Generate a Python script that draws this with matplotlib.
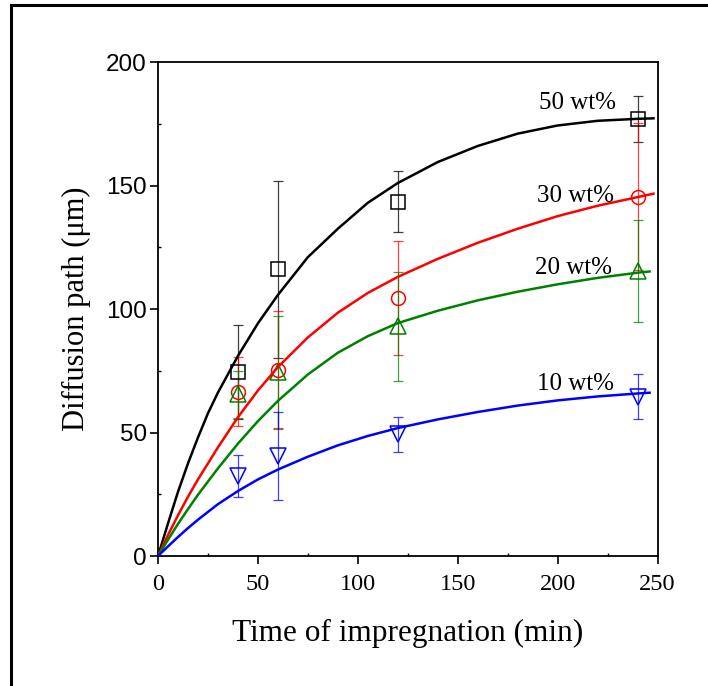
import matplotlib
matplotlib.use("Agg")
import matplotlib.pyplot as plt
from matplotlib.lines import Line2D
from matplotlib.ticker import MultipleLocator

# measured diffusion path at each impregnation time
t_meas = [40, 60, 120, 240]
d50 = [74.6, 116.0, 143.4, 176.8]
e50 = [19.0, 36.0, 12.4, 9.3]
d30 = [66.5, 75.3, 104.5, 145.5]
e30 = [14.0, 24.0, 23.0, 29.7]
d20 = [65.5, 74.5, 93.0, 115.5]
e20 = [9.5, 22.5, 22.0, 20.6]
d10 = [32.5, 40.5, 49.2, 64.5]
e10 = [8.5, 17.7, 7.0, 9.0]

# fitted curves
t_fit_a = [0, 5, 10, 15, 20, 25, 30, 40, 50, 60, 75, 90, 105, 120, 140, 160, 180, 200, 220, 240, 248]
f50 = [0, 13.2, 26, 37.5, 48, 57.8, 66.2, 81, 94.2, 105.7, 121, 132.5, 143, 151, 159.5, 166, 171,
       174.3, 176.2, 177, 177.2]
t_fit_b = [0, 5, 10, 15, 20, 30, 40, 50, 60, 75, 90, 105, 120, 140, 160, 180, 200, 220, 240, 248]
f30 = [0, 8.5, 16.5, 24, 31, 44, 56.2, 67, 76.5, 88.5, 98.5, 106.5, 113, 120.3, 126.8, 132.5,
       137.6, 141.8, 145.3, 146.7]
t_fit_c = [0, 5, 10, 15, 20, 30, 40, 50, 60, 75, 90, 105, 120, 140, 160, 180, 200, 220, 240, 246]
f20 = [0, 6.6, 13, 19, 24.8, 35.5, 45.5, 54.6, 62.8, 73.5, 82.3, 89, 94.3, 99.3, 103.5, 107,
       110, 112.6, 114.7, 115.2]
f10 = [0, 3.9, 7.7, 11.3, 14.7, 21, 26.3, 31, 35, 40.2, 44.8, 48.6, 51.8, 55.3, 58.3, 60.9,
       63, 64.6, 65.8, 66.1]

labels = ["50 wt%", "30 wt%", "20 wt%", "10 wt%"]
label_pos = [(210, 183.4), (209, 145.7), (208, 116.6), (209, 69.6)]

serif = "Liberation Serif"
sans = "Liberation Sans"

fig = plt.figure(figsize=(7.08, 6.86), dpi=100)
ax = fig.add_axes([0.2232, 0.1895, 0.7055, 0.7201])

series = [
    (d50, e50, t_fit_a, f50, "black", "s", 9.5),
    (d30, e30, t_fit_b, f30, "#ff0000", "o", 10),
    (d20, e20, t_fit_c, f20, "#008000", "^", 11),
    (d10, e10, t_fit_c, f10, "#0000ff", "v", 11),
]

for d, e, tf, f, c, m, ms in series:
    ax.errorbar(t_meas, d, yerr=e, fmt="none", ecolor=c, elinewidth=0.9,
                capsize=3.5, capthick=0.9, alpha=0.75, zorder=2)
    ax.plot(t_meas, d, linestyle="none", marker=m, markersize=ms,
            markerfacecolor="none", markeredgecolor=c, markeredgewidth=1.1, zorder=3)
    ax.plot(tf, f, color=c, lw=1.8, zorder=4)

for lab, (x, y) in zip(labels, label_pos):
    ax.text(x, y, lab, fontsize=18, family=serif, ha="center", va="center")

ax.set_xlim(0, 250)
ax.set_ylim(0, 200)
ax.xaxis.set_major_locator(MultipleLocator(50))
ax.yaxis.set_major_locator(MultipleLocator(50))
ax.xaxis.set_minor_locator(MultipleLocator(25))
ax.yaxis.set_minor_locator(MultipleLocator(25))
ax.tick_params(which="major", direction="out", length=6, width=1.2,
               top=False, right=False)
ax.tick_params(which="minor", direction="in", length=2.5, width=1.0,
               top=False, right=False)

for lbl in ax.get_xticklabels():
    lbl.set_fontfamily(serif)
    lbl.set_fontsize(17.5)
for lbl in ax.get_yticklabels():
    lbl.set_fontfamily(sans)
    lbl.set_fontsize(17.5)
ax.tick_params(axis="x", pad=7)
ax.tick_params(axis="y", pad=2)

for sp in ax.spines.values():
    sp.set_linewidth(1.3)

ax.set_xlabel("Time of impregnation (min)", fontsize=22.5, family=serif, labelpad=17)
ax.set_ylabel("Diffusion path (\u03bcm)", fontsize=22, family=serif, labelpad=11)

# frame lines along the top and left edge
fig.add_artist(Line2D([0.0155, 0.0155], [0, 0.9927], color="black", lw=2.2,
                      transform=fig.transFigure))
fig.add_artist(Line2D([0.0155, 1.0], [0.9927, 0.9927], color="black", lw=2.2,
                      transform=fig.transFigure))

fig.savefig("out.png", dpi=100)
